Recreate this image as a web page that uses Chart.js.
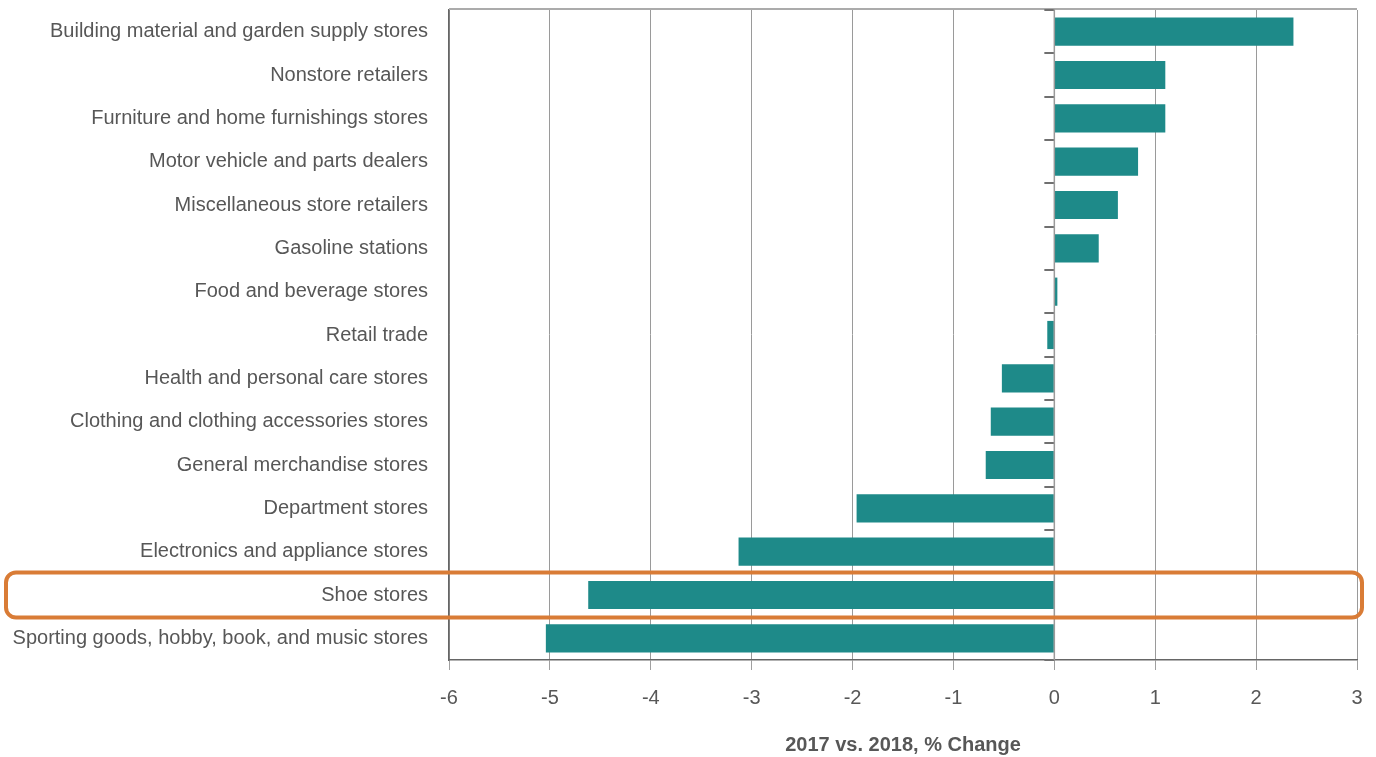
<!DOCTYPE html>
<html>
<head>
<meta charset="utf-8">
<script src="https://cdn.jsdelivr.net/npm/chart.js@4/dist/chart.umd.min.js"></script>
<style>
  html, body { margin: 0; padding: 0; background: #ffffff; }
  #wrap { width: 1376px; height: 757px; position: relative; }
</style>
</head>
<body>
<div id="wrap"><canvas id="chart"></canvas></div>
<script>
// Retail subsectors, 2017 vs. 2018 percent change
const categories = [
  'Building material and garden supply stores',
  'Nonstore retailers',
  'Furniture and home furnishings stores',
  'Motor vehicle and parts dealers',
  'Miscellaneous store retailers',
  'Gasoline stations',
  'Food and beverage stores',
  'Retail trade',
  'Health and personal care stores',
  'Clothing and clothing accessories stores',
  'General merchandise stores',
  'Department stores',
  'Electronics and appliance stores',
  'Shoe stores',
  'Sporting goods, hobby, book, and music stores'
];
const pctChange = [2.37, 1.10, 1.10, 0.83, 0.63, 0.44, 0.03, -0.07, -0.52, -0.63, -0.68, -1.96, -3.13, -4.62, -5.04];
const xTicks = [-6, -5, -4, -3, -2, -1, 0, 1, 2, 3];
const highlighted = 'Shoe stores';
const axisTitle = '2017 vs. 2018, % Change';

const FONT = '"Liberation Sans Narrow", "Arial Narrow", "Liberation Sans", Arial, sans-serif';
const TEXT = '#575757';
const BAR = '#1e8a89';

// Extra strokes: top frame line, category ticks on the zero line, highlight box
const decorations = {
  id: 'decorations',
  afterDatasetsDraw(chart) {
    const { ctx, chartArea: a, scales: { x, y } } = chart;
    ctx.save();
    // top frame line
    ctx.strokeStyle = '#ababab';
    ctx.lineWidth = 2;
    ctx.beginPath();
    ctx.moveTo(a.left, a.top - 1);
    ctx.lineTo(a.right, a.top - 1);
    ctx.stroke();
    // category boundary ticks on the zero line
    const x0 = x.getPixelForValue(0);
    ctx.strokeStyle = '#707070';
    ctx.lineWidth = 2;
    for (let i = 0; i <= categories.length; i++) {
      const py = Math.round(y.getPixelForValue(i - 0.5));
      ctx.beginPath();
      ctx.moveTo(x0 - 10, py);
      ctx.lineTo(x0, py);
      ctx.stroke();
    }
    // zero line
    ctx.strokeStyle = '#9a9a9a';
    ctx.lineWidth = 1.5;
    ctx.beginPath();
    ctx.moveTo(x0, a.top - 1);
    ctx.lineTo(x0, a.bottom);
    ctx.stroke();
    // highlight box around one category
    const idx = categories.indexOf(highlighted);
    if (idx >= 0) {
      const cy = y.getPixelForValue(idx);
      const h = 45;
      ctx.strokeStyle = '#d97c36';
      ctx.lineWidth = 4;
      ctx.beginPath();
      ctx.roundRect(6, cy - h / 2, chart.width - 20, h, 10);
      ctx.stroke();
    }
    ctx.restore();
  }
};

new Chart(document.getElementById('chart'), {
  type: 'bar',
  data: {
    labels: categories,
    datasets: [{
      data: pctChange,
      backgroundColor: BAR,
      borderWidth: 0,
      barPercentage: 0.65,
      categoryPercentage: 1.0
    }]
  },
  options: {
    indexAxis: 'y',
    responsive: true,
    maintainAspectRatio: false,
    animation: false,
    layout: { padding: { top: 10, right: 19, bottom: 0, left: 0 } },
    plugins: {
      legend: { display: false },
      tooltip: { enabled: false }
    },
    scales: {
      x: {
        min: -6,
        max: 3,
        afterBuildTicks(scale) {
          scale.ticks = xTicks.map(v => ({ value: v }));
        },
        afterFit(scale) {
          scale.height = 97;
          scale.paddingLeft = 0;
          scale.paddingRight = 0;
        },
        grid: {
          color: '#9a9a9a',
          lineWidth: 1,
          drawTicks: true,
          tickLength: 10,
          tickColor: '#a0a0a0'
        },
        border: { display: true, color: '#666666', width: 1.5 },
        ticks: {
          color: TEXT,
          font: { family: FONT, size: 20 },
          padding: 16,
          maxRotation: 0
        },
        title: {
          display: true,
          text: axisTitle,
          color: TEXT,
          font: { family: FONT, size: 20, weight: 'bold' },
          padding: { top: 10, bottom: 0 }
        }
      },
      y: {
        afterFit(scale) {
          scale.width = 449;
          scale.paddingTop = 0;
          scale.paddingBottom = 0;
        },
        grid: { display: false, drawTicks: false },
        border: { display: true, color: '#666666', width: 1.5 },
        ticks: {
          color: TEXT,
          font: { family: FONT, size: 20 },
          padding: 21,
          autoSkip: false
        }
      }
    }
  },
  plugins: [decorations]
});
</script>
</body>
</html>
